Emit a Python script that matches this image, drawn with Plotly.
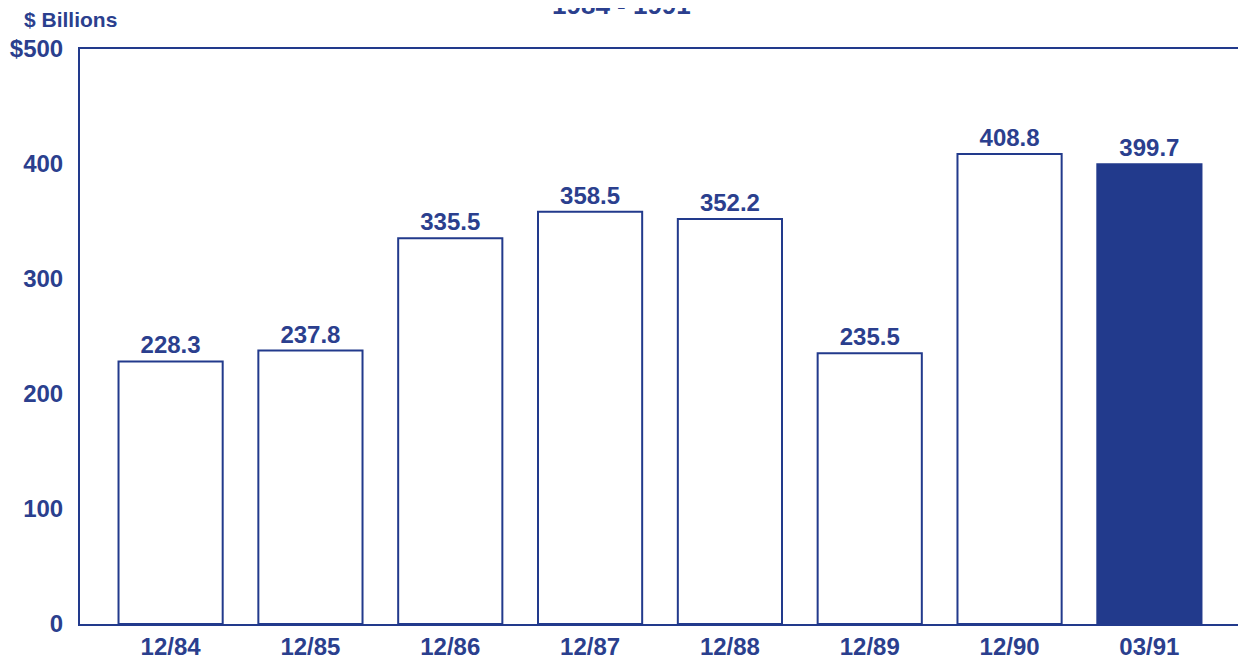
import plotly.graph_objects as go

categories = ["12/84", "12/85", "12/86", "12/87", "12/88", "12/89", "12/90", "03/91"]
values = [228.3, 237.8, 335.5, 358.5, 352.2, 235.5, 408.8, 399.7]
value_labels = ["228.3", "237.8", "335.5", "358.5", "352.2", "235.5", "408.8", "399.7"]
ytick_vals = [0, 100, 200, 300, 400, 500]
ytick_text = ["0", "100", "200", "300", "400", "$500"]

BLUE = "#223a8c"
TXT = "#2b3f8e"
FONT = "Liberation Sans, Arial, sans-serif"

fills = ["white"] * (len(categories) - 1) + [BLUE]

fig = go.Figure()
fig.add_trace(go.Bar(
    x=categories, y=values,
    marker=dict(color=fills, line=dict(color=BLUE, width=2)),
    text=value_labels, textposition="outside", cliponaxis=False,
    textfont=dict(family=FONT, size=24, color=TXT, weight="bold"),
))

fig.update_layout(
    width=1246, height=658,
    margin=dict(l=72, r=14, t=41, b=42, autoexpand=False),
    paper_bgcolor="white", plot_bgcolor="white",
    showlegend=False, bargap=0.255,
    font=dict(family=FONT, color=TXT, size=24, weight="bold"),
    xaxis=dict(range=[-0.648, 7.648], showline=True, linecolor=BLUE, linewidth=2,
               mirror=True, showgrid=False, ticks="", automargin=False,
               tickfont=dict(family=FONT, size=24, color=TXT, weight="bold")),
    yaxis=dict(range=[0, 500], tickvals=ytick_vals, ticktext=ytick_text,
               showline=True, linecolor=BLUE, linewidth=2, mirror=True,
               showgrid=False, zeroline=False, ticks="", ticklabelstandoff=10,
               automargin=False,
               tickfont=dict(family=FONT, size=24, color=TXT, weight="bold")),
    annotations=[
        dict(text="$ Billions", xref="paper", yref="paper", x=-0.05, y=1.028,
             xanchor="left", yanchor="bottom", showarrow=False,
             font=dict(family=FONT, size=21, color=TXT, weight="bold")),
        dict(text="1984 - 1991", xref="paper", yref="paper", x=0.467, y=1.047,
             xanchor="center", yanchor="bottom", showarrow=False,
             font=dict(family=FONT, size=26, color=TXT, weight="bold")),
    ],
)

fig.write_html("out.html")
